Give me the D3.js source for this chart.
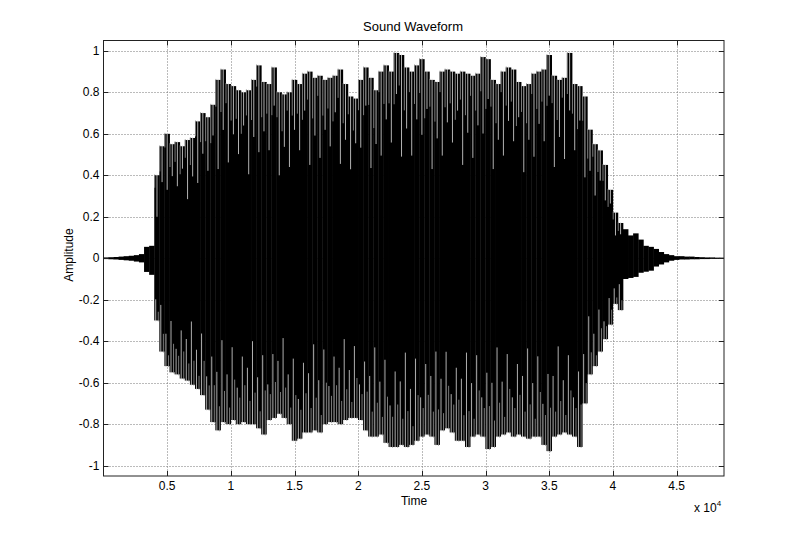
<!DOCTYPE html>
<html>
<head>
<meta charset="utf-8">
<script src="https://cdn.jsdelivr.net/npm/d3@7/dist/d3.min.js"></script>
<style>
  body { margin: 0; background: #fff; }
  text { font-family: Arial, "Liberation Sans", sans-serif; fill: #000; }
</style>
</head>
<body>
<div id="chart"></div>
<script>
// waveform: max / min amplitude in each block of 400 samples
const blockSize = 400;
const upperPeak = [
  0.004, 0.005, 0.006, 0.008, 0.01, 0.012, 0.015, 0.02, 0.055, 0.06,
  0.40, 0.54, 0.60, 0.55, 0.56, 0.54, 0.57, 0.58, 0.66, 0.70,
  0.68, 0.74, 0.86, 0.91, 0.84, 0.83, 0.81, 0.80, 0.81, 0.86,
  0.93, 0.85, 0.84, 0.92, 0.80, 0.79, 0.80, 0.86, 0.84, 0.89,
  0.90, 0.87, 0.88, 0.86, 0.87, 0.88, 0.91, 0.84, 0.78, 0.77,
  0.86, 0.92, 0.87, 0.81, 0.90, 0.93, 0.90, 0.99, 0.98, 0.92,
  0.90, 0.93, 0.96, 0.90, 0.86, 0.85, 0.90, 0.91, 0.90, 0.89,
  0.90, 0.89, 0.88, 0.89, 0.97, 0.96, 0.86, 0.84, 0.90, 0.92,
  0.91, 0.85, 0.83, 0.84, 0.89, 0.90, 0.91, 0.98, 0.88, 0.86,
  0.87, 0.99, 0.84, 0.83, 0.78, 0.62, 0.55, 0.52, 0.45, 0.33,
  0.22, 0.17, 0.14, 0.11, 0.12, 0.09, 0.06, 0.055, 0.045, 0.03,
  0.02, 0.015, 0.01, 0.01, 0.008, 0.008, 0.006, 0.005, 0.004, 0.004,
  0.003, 0.003
];
const lowerPeak = [
  -0.004, -0.005, -0.006, -0.008, -0.01, -0.012, -0.016, -0.02, -0.066, -0.08,
  -0.30, -0.45, -0.52, -0.55, -0.56, -0.58, -0.59, -0.61, -0.63, -0.66,
  -0.73, -0.79, -0.83, -0.79, -0.80, -0.78, -0.80, -0.79, -0.80, -0.80,
  -0.82, -0.85, -0.78, -0.77, -0.75, -0.77, -0.80, -0.88, -0.87, -0.84,
  -0.84, -0.83, -0.84, -0.80, -0.79, -0.79, -0.80, -0.78, -0.77, -0.77,
  -0.78, -0.83, -0.86, -0.86, -0.85, -0.89, -0.91, -0.91, -0.90, -0.91,
  -0.90, -0.88, -0.86, -0.85, -0.86, -0.90, -0.83, -0.82, -0.84, -0.88,
  -0.88, -0.91, -0.86, -0.85, -0.86, -0.92, -0.91, -0.86, -0.85, -0.84,
  -0.86, -0.85, -0.86, -0.87, -0.86, -0.86, -0.90, -0.93, -0.86, -0.85,
  -0.84, -0.85, -0.86, -0.91, -0.70, -0.56, -0.52, -0.45, -0.39, -0.32,
  -0.22, -0.25, -0.10, -0.095, -0.09, -0.07, -0.065, -0.06, -0.04, -0.03,
  -0.02, -0.012, -0.008, -0.006, -0.006, -0.005, -0.005, -0.004, -0.004, -0.003,
  -0.003, -0.003
];
const xTicks = [5000, 10000, 15000, 20000, 25000, 30000, 35000, 40000, 45000];
const yTicks = [-1, -0.8, -0.6, -0.4, -0.2, 0, 0.2, 0.4, 0.6, 0.8, 1];

const width = 800, height = 534;
const plotLeft = 103.5, plotRight = 724, plotTop = 40.5, plotBottom = 476;

const svg = d3.select('#chart').append('svg')
  .attr('width', width)
  .attr('height', height);

const x = d3.scaleLinear().domain([0, 48720]).range([plotLeft, plotRight]);
const y = d3.scaleLinear().domain([-1.05, 1.05]).range([plotBottom, plotTop]);

svg.append('defs').append('clipPath').attr('id', 'plot-clip')
  .append('rect')
  .attr('x', plotLeft).attr('y', plotTop)
  .attr('width', plotRight - plotLeft).attr('height', plotBottom - plotTop);

// dotted grid
const grid = svg.append('g').attr('class', 'grid')
  .attr('stroke', '#777').attr('stroke-width', 1).attr('stroke-dasharray', '1,2');
grid.selectAll('.gx').data(xTicks).enter().append('line')
  .attr('x1', d => Math.round(x(d)) + 0.5).attr('x2', d => Math.round(x(d)) + 0.5)
  .attr('y1', plotTop).attr('y2', plotBottom);
grid.selectAll('.gy').data(yTicks).enter().append('line')
  .attr('y1', d => Math.round(y(d)) + 0.5).attr('y2', d => Math.round(y(d)) + 0.5)
  .attr('x1', plotLeft).attr('x2', plotRight);

// waveform: one black column per block, thin light slits cut into the outer part
const blocks = upperPeak.map((hi, i) => ({ i: i, t: i * blockSize, hi: hi, lo: lowerPeak[i] }));
const wave = svg.append('g').attr('clip-path', 'url(#plot-clip)');

wave.selectAll('rect.col').data(blocks).enter().append('rect')
  .attr('class', 'col')
  .attr('x', d => x(d.t) - 0.2)
  .attr('width', d => x(d.t + blockSize) - x(d.t) + 0.4)
  .attr('y', d => y(d.hi))
  .attr('height', d => Math.max(1.2, y(d.lo) - y(d.hi)))
  .attr('fill', '#000');

// slit depth pattern (drawing texture only)
const slitTop = [0.55, 0.72, 0.62, 0.8, 0.5, 0.68];
const slitBot = [0.7, 0.55, 0.78, 0.6, 0.66, 0.5];
const loud = blocks.filter(d => d.hi > 0.15);

function slits(cls, pos, key, depth, off, colour) {
  wave.selectAll('line.' + cls).data(loud).enter().append('line')
    .attr('class', cls)
    .attr('x1', d => x(d.t + blockSize * pos)).attr('x2', d => x(d.t + blockSize * pos))
    .attr('y1', d => y(d[key]) + (key === 'hi' ? -1 : 1))
    .attr('y2', d => y(d[key] * depth[(d.i + off) % depth.length]))
    .attr('stroke', colour).attr('stroke-width', 0.8);
}
slits('up-a', 0.5, 'hi', slitTop, 0, '#e0e0e0');
slits('up-b', 0.05, 'hi', slitBot.map(v => (v + 1) / 2), 2, '#9a9a9a');
slits('dn-a', 0.25, 'lo', slitBot, 0, '#dcdcdc');
slits('dn-b', 0.75, 'lo', slitTop.map(v => (v + 1) / 2), 3, '#999');

// box and inward ticks
const frame = svg.append('g').attr('stroke', '#222').attr('stroke-width', 1).attr('fill', 'none');
frame.append('rect')
  .attr('x', plotLeft).attr('y', plotTop)
  .attr('width', plotRight - plotLeft).attr('height', plotBottom - plotTop);
const tl = 5;
frame.selectAll('.tb').data(xTicks).enter().append('path')
  .attr('d', d => {
    const px = Math.round(x(d)) + 0.5;
    return `M${px},${plotBottom}V${plotBottom - tl}M${px},${plotTop}V${plotTop + tl}`;
  });
frame.selectAll('.tl').data(yTicks).enter().append('path')
  .attr('d', d => {
    const py = Math.round(y(d)) + 0.5;
    return `M${plotLeft},${py}H${plotLeft + tl}M${plotRight},${py}H${plotRight - tl}`;
  });

// tick labels
const fmt = v => String(+v.toFixed(1));
svg.append('g').selectAll('text').data(xTicks).enter().append('text')
  .attr('x', d => x(d)).attr('y', 490)
  .attr('text-anchor', 'middle').attr('font-size', 12)
  .text(d => fmt(d / 1e4));
svg.append('g').selectAll('text').data(yTicks).enter().append('text')
  .attr('x', plotLeft - 4).attr('y', d => y(d) + 4)
  .attr('text-anchor', 'end').attr('font-size', 12)
  .text(d => fmt(d));

// exponent label
const expo = svg.append('text').attr('x', 694).attr('y', 512).attr('font-size', 12);
expo.append('tspan').text('x 10');
expo.append('tspan').attr('dy', -6).attr('font-size', 8).text('4');

// titles
svg.append('text').attr('x', 413).attr('y', 31)
  .attr('text-anchor', 'middle').attr('font-size', 13)
  .text('Sound Waveform');
svg.append('text').attr('x', 414).attr('y', 505)
  .attr('text-anchor', 'middle').attr('font-size', 12)
  .text('Time');
svg.append('text')
  .attr('transform', 'translate(73,255) rotate(-90)')
  .attr('text-anchor', 'middle').attr('font-size', 12)
  .text('Amplitude');
</script>
</body>
</html>
